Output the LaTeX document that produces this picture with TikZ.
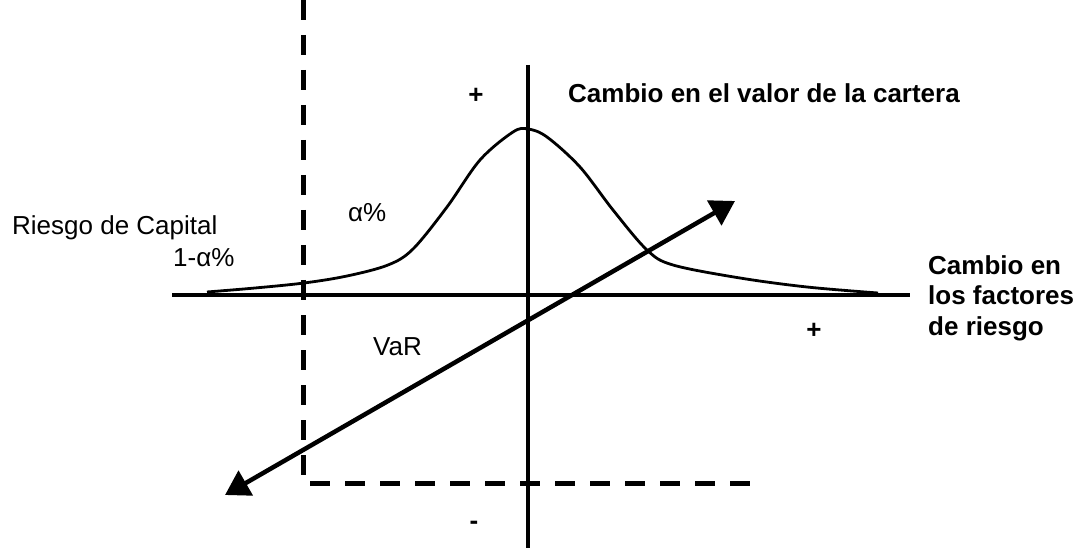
\documentclass[tikz,border=0pt]{standalone}
\usepackage{fontspec}
\setmainfont{Liberation Sans}
\usetikzlibrary{arrows.meta}
\begin{document}
\begin{tikzpicture}[x=1pt,y=-1pt,
  axis/.style={line width=4pt},
  guide/.style={line width=5pt, dash pattern=on 20pt off 15pt},
  curve/.style={line width=2.8pt, line join=round},
  vararrow/.style={line width=4.5pt, {Triangle[length=24pt,width=28pt]}-{Triangle[length=24pt,width=28pt]}},
  lbl/.style={inner sep=0pt, font=\fontsize{26}{30}\selectfont},
  blbl/.style={inner sep=0pt, font=\fontsize{26}{30}\selectfont\bfseries},
]
\useasboundingbox (0,0) rectangle (1082,548);
\fill[white] (0,0) rectangle (1082,548);
% coordinates
\coordinate (xl) at (172,295);
\coordinate (xr) at (910,295);
\coordinate (yt) at (528,65);
\coordinate (yb) at (528,548);
\coordinate (dtop) at (303,0);
\coordinate (dcorner) at (303,483);
\coordinate (dend) at (750,483);
\coordinate (aL) at (225,495);
\coordinate (aU) at (735,201);
% distribution curve
\draw[curve] plot[smooth, tension=0.55] coordinates {(207,292) (255,288) (304,283) (347,276) (388,265) (413,249) (447,207) (480,160) (513,132) (528,129) (547,137) (580,167) (613,210) (647,250) (673,265) (740,278) (807,287) (878,293)};
% axes
\draw[axis] (xl) -- (xr);
\draw[axis] (yt) -- (yb);
% dashed guides
\draw[guide] (dtop) -- (dcorner) -- (dend);
% arrow
\draw[vararrow] (aL) -- (aU);
% labels
\node[blbl, anchor=base west] (vlab) at (568,103) {Cambio en el valor de la cartera};
\node[blbl, anchor=base west] (f1) at (928,275) {Cambio en};
\node[blbl, anchor=base west] (f2) at (928,305) {los factores};
\node[blbl, anchor=base west] (f3) at (928,335) {de riesgo};
\node[lbl, anchor=base west] (rc) at (12,235) {Riesgo de Capital};
\node[lbl, anchor=base west] (oma) at (173,266) {1-α\%};
\node[lbl, anchor=base west] (alf) at (348,222) {α\%};
\node[lbl, anchor=base west] (var) at (373,355) {VaR};
\node[blbl] (pt) at (476,96) {+};
\node[blbl] (pr) at (814,331) {+};
\node[blbl] (mb) at (474,525) {-};
\end{tikzpicture}
\end{document}
